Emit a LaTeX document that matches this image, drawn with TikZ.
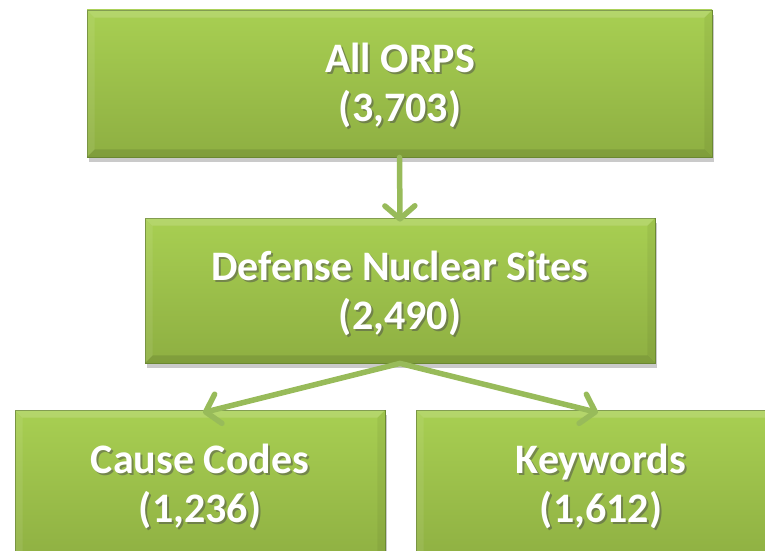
\documentclass[tikz,border=0pt]{standalone}
\usepackage{fontspec}
\setmainfont{Carlito}
\usetikzlibrary{arrows.meta,shadows,calc}
\definecolor{gtop}{HTML}{A8CF52}
\definecolor{gbot}{HTML}{8EAF42}
\definecolor{gedge}{HTML}{6E8C33}
\definecolor{garrow}{HTML}{98BB5A}
\tikzset{
  boxnode/.style={rectangle, draw=gedge, line width=0.8pt,
    top color=gtop, bottom color=gbot, inner sep=0pt,
    drop shadow={shadow xshift=2pt, shadow yshift=-5pt, opacity=0.35, fill=black!60},
    text=white, align=center},
  boxtext/.style={text=white, align=center,
    font=\fontsize{42}{49}\selectfont\bfseries},
  txtshadow/.style={text=black!70, opacity=0.5, align=center,
    font=\fontsize{42}{49}\selectfont\bfseries},
  conn/.style={draw=garrow, line width=5.5pt, line cap=round,
    -{Straight Barb[length=13pt,width=30pt,line width=5.5pt,round]}},
}
\begin{document}
\begin{tikzpicture}[x=1pt,y=-1pt]
\useasboundingbox (0,0) rectangle (765,551);
% boxes
\node[boxnode, minimum width=625pt, minimum height=147pt] (all) at (399.5,83.5) {};
\node[boxnode, minimum width=510pt, minimum height=145pt] (dns) at (400,290.5) {};
\node[boxnode, minimum width=370pt, minimum height=155pt] (cc) at (200,487.5) {};
\node[boxnode, minimum width=370pt, minimum height=155pt] (kw) at (601,487.5) {};
% bevel highlights
\foreach \n in {all,dns,cc,kw}{
  \fill[white, opacity=0.15] (\n.north west) -- (\n.north east) -- ($(\n.north east)+(-8,8)$) -- ($(\n.north west)+(8,8)$) -- cycle;
  \fill[white, opacity=0.08] (\n.north west) -- ($(\n.north west)+(8,8)$) -- ($(\n.south west)+(8,-8)$) -- (\n.south west) -- cycle;
  \fill[black, opacity=0.10] (\n.south west) -- (\n.south east) -- ($(\n.south east)+(-8,-8)$) -- ($(\n.south west)+(8,-8)$) -- cycle;
  \fill[black, opacity=0.05] (\n.north east) -- ($(\n.north east)+(-8,8)$) -- ($(\n.south east)+(-8,-8)$) -- (\n.south east) -- cycle;
}
% text shadows
\node[txtshadow] (s1) at (402,87.5) {All ORPS\\(3,703)};
\node[txtshadow] (s2) at (402,295.5) {Defense Nuclear Sites\\(2,490)};
\node[txtshadow] (s3) at (202,488.5) {Cause Codes\\(1,236)};
\node[txtshadow] (s4) at (603,488.5) {Keywords\\(1,612)};
% texts
\node[boxtext] (t1) at (400,85) {All ORPS\\(3,703)};
\node[boxtext] (t2) at (400,293) {Defense Nuclear Sites\\(2,490)};
\node[boxtext] (t3) at (200,486) {Cause Codes\\(1,236)};
\node[boxtext] (t4) at (601,486) {Keywords\\(1,612)};
% connectors
\draw[conn] (all.south) -- ([yshift=-4pt]dns.north);
\draw[conn] (dns.south) -- ([xshift=3pt,yshift=-3pt]cc.north);
\draw[conn] (dns.south) -- ([xshift=-3pt,yshift=-3pt]kw.north);
\end{tikzpicture}
\end{document}
